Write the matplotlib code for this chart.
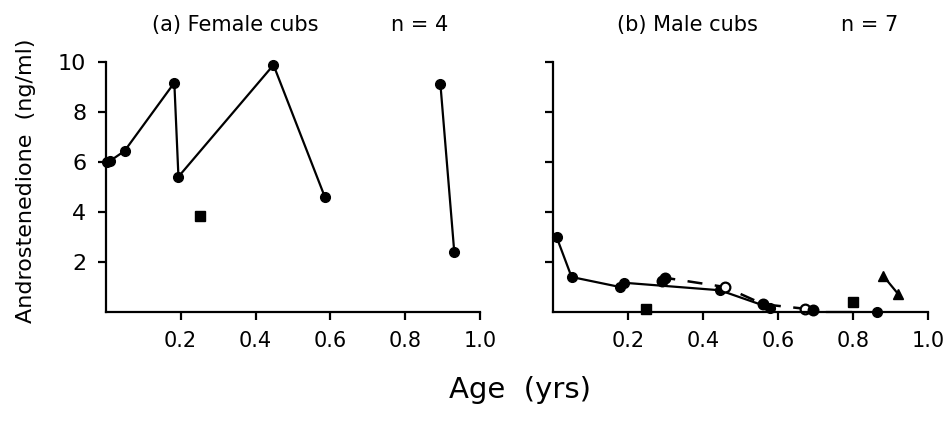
import matplotlib
matplotlib.use('Agg')
import matplotlib.pyplot as plt

# female cubs (a)
fem_a_x = [0.003, 0.012, 0.05, 0.183, 0.194, 0.448, 0.585]
fem_a_y = [6.0, 6.05, 6.44, 9.17, 5.41, 9.88, 4.61]
fem_b_x = [0.894, 0.931]
fem_b_y = [9.12, 2.41]
fem_sq_x = [0.252]
fem_sq_y = [3.84]

# male cubs (b)
male_a_x = [0.01, 0.05, 0.179, 0.19, 0.445, 0.579]
male_a_y = [3.0, 1.4, 1.0, 1.17, 0.87, 0.17]
male_b_x = [0.29, 0.299, 0.459, 0.561, 0.672, 0.694]
male_b_y = [1.24, 1.37, 1.0, 0.31, 0.13, 0.07]
male_b_open = [False, False, True, False, True, False]
male_c_x = [0.73, 0.795]
male_c_y = [0.02, 0.02]
male_d_x = [0.863]
male_d_y = [0.0]
male_tri_x = [0.881, 0.921]
male_tri_y = [1.44, 0.71]
male_sq_x = [0.248, 0.80]
male_sq_y = [0.11, 0.40]

xticks = [0.2, 0.4, 0.6, 0.8, 1.0]
yticks = [2, 4, 6, 8, 10]

plt.rcParams['font.family'] = 'DejaVu Sans'

fig = plt.figure(figsize=(9.45, 4.41), dpi=100)
ax1 = fig.add_axes([0.112, 0.2925, 0.396, 0.567])
ax2 = fig.add_axes([0.585, 0.2925, 0.397, 0.567])

for ax in (ax1, ax2):
    ax.set_xlim(0, 1.0)
    ax.set_ylim(0, 10)
    ax.set_xticks(xticks)
    ax.set_xticklabels([f'{t:.1f}' for t in xticks], fontsize=15)
    ax.set_yticks(yticks)
    ax.spines['top'].set_visible(False)
    ax.spines['right'].set_visible(False)
    ax.spines['left'].set_linewidth(1.6)
    ax.spines['bottom'].set_linewidth(1.6)
    ax.tick_params(direction='out', length=6, width=1.6, pad=8)

ax1.set_yticklabels([str(t) for t in yticks], fontsize=16)
ax2.set_yticklabels([])

kw = dict(color='black', lw=1.6, ms=7, clip_on=False)
ax1.plot(fem_a_x, fem_a_y, 'o-', **kw)
ax1.plot(fem_b_x, fem_b_y, 'o-', **kw)
ax1.plot(fem_sq_x, fem_sq_y, 's', **kw)

ax2.plot(male_a_x, male_a_y, 'o-', **kw)
ax2.plot(male_b_x, male_b_y, '--', color='black', lw=1.8, dashes=(6, 5), clip_on=False)
for x, y, op in zip(male_b_x, male_b_y, male_b_open):
    ax2.plot([x], [y], 'o', color='black', ms=7, mew=1.6,
             mfc='white' if op else 'black', clip_on=False)
ax2.plot(male_c_x, male_c_y, '-', color='black', lw=1.6, clip_on=False)
ax2.plot(male_d_x, male_d_y, 'o', **kw)
ax2.plot(male_tri_x, male_tri_y, '^-', **kw)
ax2.plot(male_sq_x, male_sq_y, 's', **kw)

fig.text(0.249, 0.93, '(a) Female cubs', fontsize=15, ha='center')
fig.text(0.444, 0.93, 'n = 4', fontsize=15, ha='center')
fig.text(0.727, 0.93, '(b) Male cubs', fontsize=15, ha='center')
fig.text(0.92, 0.93, 'n = 7', fontsize=15, ha='center')

fig.text(0.028, 0.59, 'Androstenedione  (ng/ml)', fontsize=16, rotation=90,
         ha='center', va='center')
fig.text(0.55, 0.115, 'Age  (yrs)', fontsize=21, ha='center', va='center')

plt.savefig('out.png', dpi=100)
plt.close()
